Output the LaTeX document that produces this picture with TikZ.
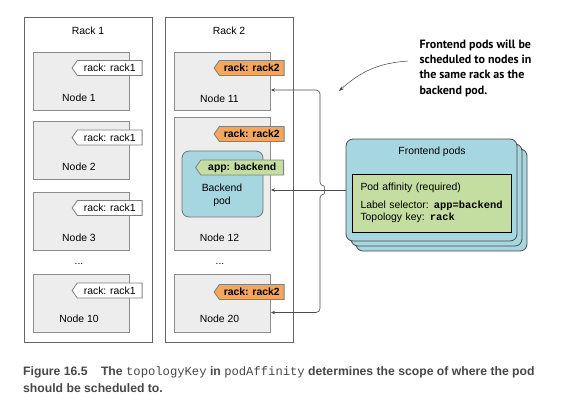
\documentclass[tikz,border=0pt]{standalone}
\usepackage{fontspec}
\setmainfont{Liberation Sans}
\setmonofont{Liberation Mono}
\newfontfamily\notefont{PT Sans}
\usepackage{tikz}
\usetikzlibrary{arrows.meta,calc,positioning,shapes.symbols}

\definecolor{boxgray}{HTML}{EDEDED}
\definecolor{rackorange}{HTML}{F2A65E}
\definecolor{taggreen}{HTML}{C4DDA0}
\definecolor{podblue}{HTML}{A6D6E0}
\definecolor{capgray}{HTML}{474747}

\begin{document}
\begin{tikzpicture}[
		x=1pt, y=-1pt,
		font=\fontsize{10.4}{12.5}\selectfont,
		rack/.style={draw=black!60, fill=white, line width=0.7pt, minimum width=128pt, minimum height=325pt, inner sep=0pt},
		hostbox/.style={draw=black!45, fill=boxgray, line width=1pt, minimum width=96pt, minimum height=58pt, inner sep=0pt},
		tagw/.style={signal, signal to=west, signal pointer angle=110, draw=black!50, fill=white, line width=0.8pt,
			minimum height=15pt, minimum width=70pt, inner xsep=3pt, inner ysep=0pt, anchor=east},
		tago/.style={tagw, fill=rackorange, font=\fontsize{10.4}{12.5}\selectfont\bfseries},
		tagg/.style={tagw, fill=taggreen, minimum width=88pt, font=\fontsize{10.4}{12.5}\selectfont\bfseries},
		pod/.style={draw=black!55, fill=podblue, line width=0.8pt, rounded corners=7pt, inner sep=0pt},
		fepod/.style={pod, draw=black!70, minimum width=171pt, minimum height=102pt},
		affinity/.style={draw=black, fill=taggreen, line width=0.8pt, minimum width=159pt, minimum height=58pt,
			text width=143pt, align=left, inner sep=0pt},
		link/.style={draw=black!70, line width=0.6pt},
		callout/.style={draw=black!75, line width=0.5pt, -{Stealth[length=5pt,width=3.5pt]}},
		>={Stealth[length=4pt,width=3.5pt]}
		]
	
		\useasboundingbox (0,0) rectangle (574,408);
	
		% --- Rack 1 ---
		\node[rack] (rack1) at (88,179.5) {};
		\node (rack1l) at (88,31) {Rack 1};
	
		\node[hostbox] (n1) at (81,81) {};
		\node[hostbox] (n2) at (81,150.5) {};
		\node[hostbox] (n3) at (81,221) {};
		\node[hostbox] (n10) at (81,303.5) {};
	
		\node (n1l) at ([xshift=-2pt,yshift=13pt]n1.south) {Node 1};
		\node (n2l) at ([xshift=-2pt,yshift=13pt]n2.south) {Node 2};
		\node (n3l) at ([xshift=-2pt,yshift=13pt]n3.south) {Node 3};
		\node (n10l) at ([xshift=-2pt,yshift=14pt]n10.south) {Node 10};
		\node[anchor=base] (dots1) at (79,264) {...};
	
		\node[tagw] (t1) at ([xshift=13pt,yshift=-16.5pt]n1.north east) {rack: rack1};
		\node[tagw] (t2) at ([xshift=13pt,yshift=-16.5pt]n2.north east) {rack: rack1};
		\node[tagw] (t3) at ([xshift=13pt,yshift=-16.5pt]n3.north east) {rack: rack1};
		\node[tagw] (t10) at ([xshift=13pt,yshift=-16.5pt]n10.north east) {rack: rack1};
	
		% --- Rack 2 ---
		\node[rack] (rack2) at (229,179.5) {};
		\node (rack2l) at (229,31) {Rack 2};
	
		\node[hostbox] (n11) at (222.5,81) {};
		\node[hostbox, minimum height=133pt] (n12) at (222.5,183.5) {};
		\node[hostbox] (n20) at (222.5,303.5) {};
	
		\node (n11l) at ([xshift=-3pt,yshift=12pt]n11.south) {Node 11};
		\node (n12l) at ([xshift=-3pt,yshift=13pt]n12.south) {Node 12};
		\node (n20l) at ([xshift=-3pt,yshift=14pt]n20.south) {Node 20};
		\node[anchor=base] (dots2) at (220,264) {...};
	
		\node[tago] (t11) at ([xshift=13.5pt,yshift=-16.5pt]n11.north east) {rack: rack2};
		\node[tago] (t12) at ([xshift=13.5pt,yshift=-17.5pt]n12.north east) {rack: rack2};
		\node[tago] (t20) at ([xshift=13.5pt,yshift=-18pt]n20.north east) {rack: rack2};
	
		% backend pod inside node 12
		\node[pod, minimum width=81pt, minimum height=66pt] (backend) at (222.5,184) {};
		\node[align=center, font=\fontsize{10.4}{13}\selectfont] (backendl) at (222,195.5) {Backend\\pod};
		\node[tagg] (tapp) at (284,167.5) {app: backend};
	
		% --- Frontend pods (stack) ---
		\node[fepod] (fe3) at (441.5,200) {};
		\node[fepod] (fe2) at (436.5,195) {};
		\node[fepod] (fe) at (431.5,190) {};
		\node (fel) at (432,152) {Frontend pods};
		\node[affinity] (aff) at (432,203) {Pod affinity (required)\\[5.4pt]
			Label selector: {\ttfamily\bfseries app=backend}\\
			Topology key: {\ttfamily\bfseries rack}};
	
		% --- Connectors ---
		\coordinate (bus) at (320,190);
		\draw[link, <->, rounded corners=4pt] ([yshift=-9pt]n11.east) -| ($(bus)+(0,-4)$)
			to[out=0, in=0, looseness=1.6] ($(bus)+(0,4)$) |- ([yshift=-9pt]n20.east);
		\draw[link, ->] (fe.west) -- (fe.west -| n12.east);
	
		% --- Note ---
		\node[anchor=west, align=left, font=\notefont\bfseries\fontsize{12}{15.3}\selectfont] (note) at (416,68)
			{Frontend pods will be\\scheduled to nodes in\\the same rack as the\\backend pod.};
		\coordinate (cfrom) at (408,61);
		\coordinate (ctip) at (339,91);
		\draw[callout] (cfrom) to[out=184, in=42] (ctip);
	
		% --- Caption ---
		\node[anchor=west, align=left, text=capgray, inner sep=0pt,
			font=\bfseries\fontsize{12.2}{17}\selectfont] (cap) at (23,379.5)
			{Figure 16.5\hspace{1.1em}The {\mdseries\ttfamily topologyKey} in {\mdseries\ttfamily podAffinity} determines the scope of where the pod\\
			should be scheduled to.};
	
	\end{tikzpicture}
\end{document}
